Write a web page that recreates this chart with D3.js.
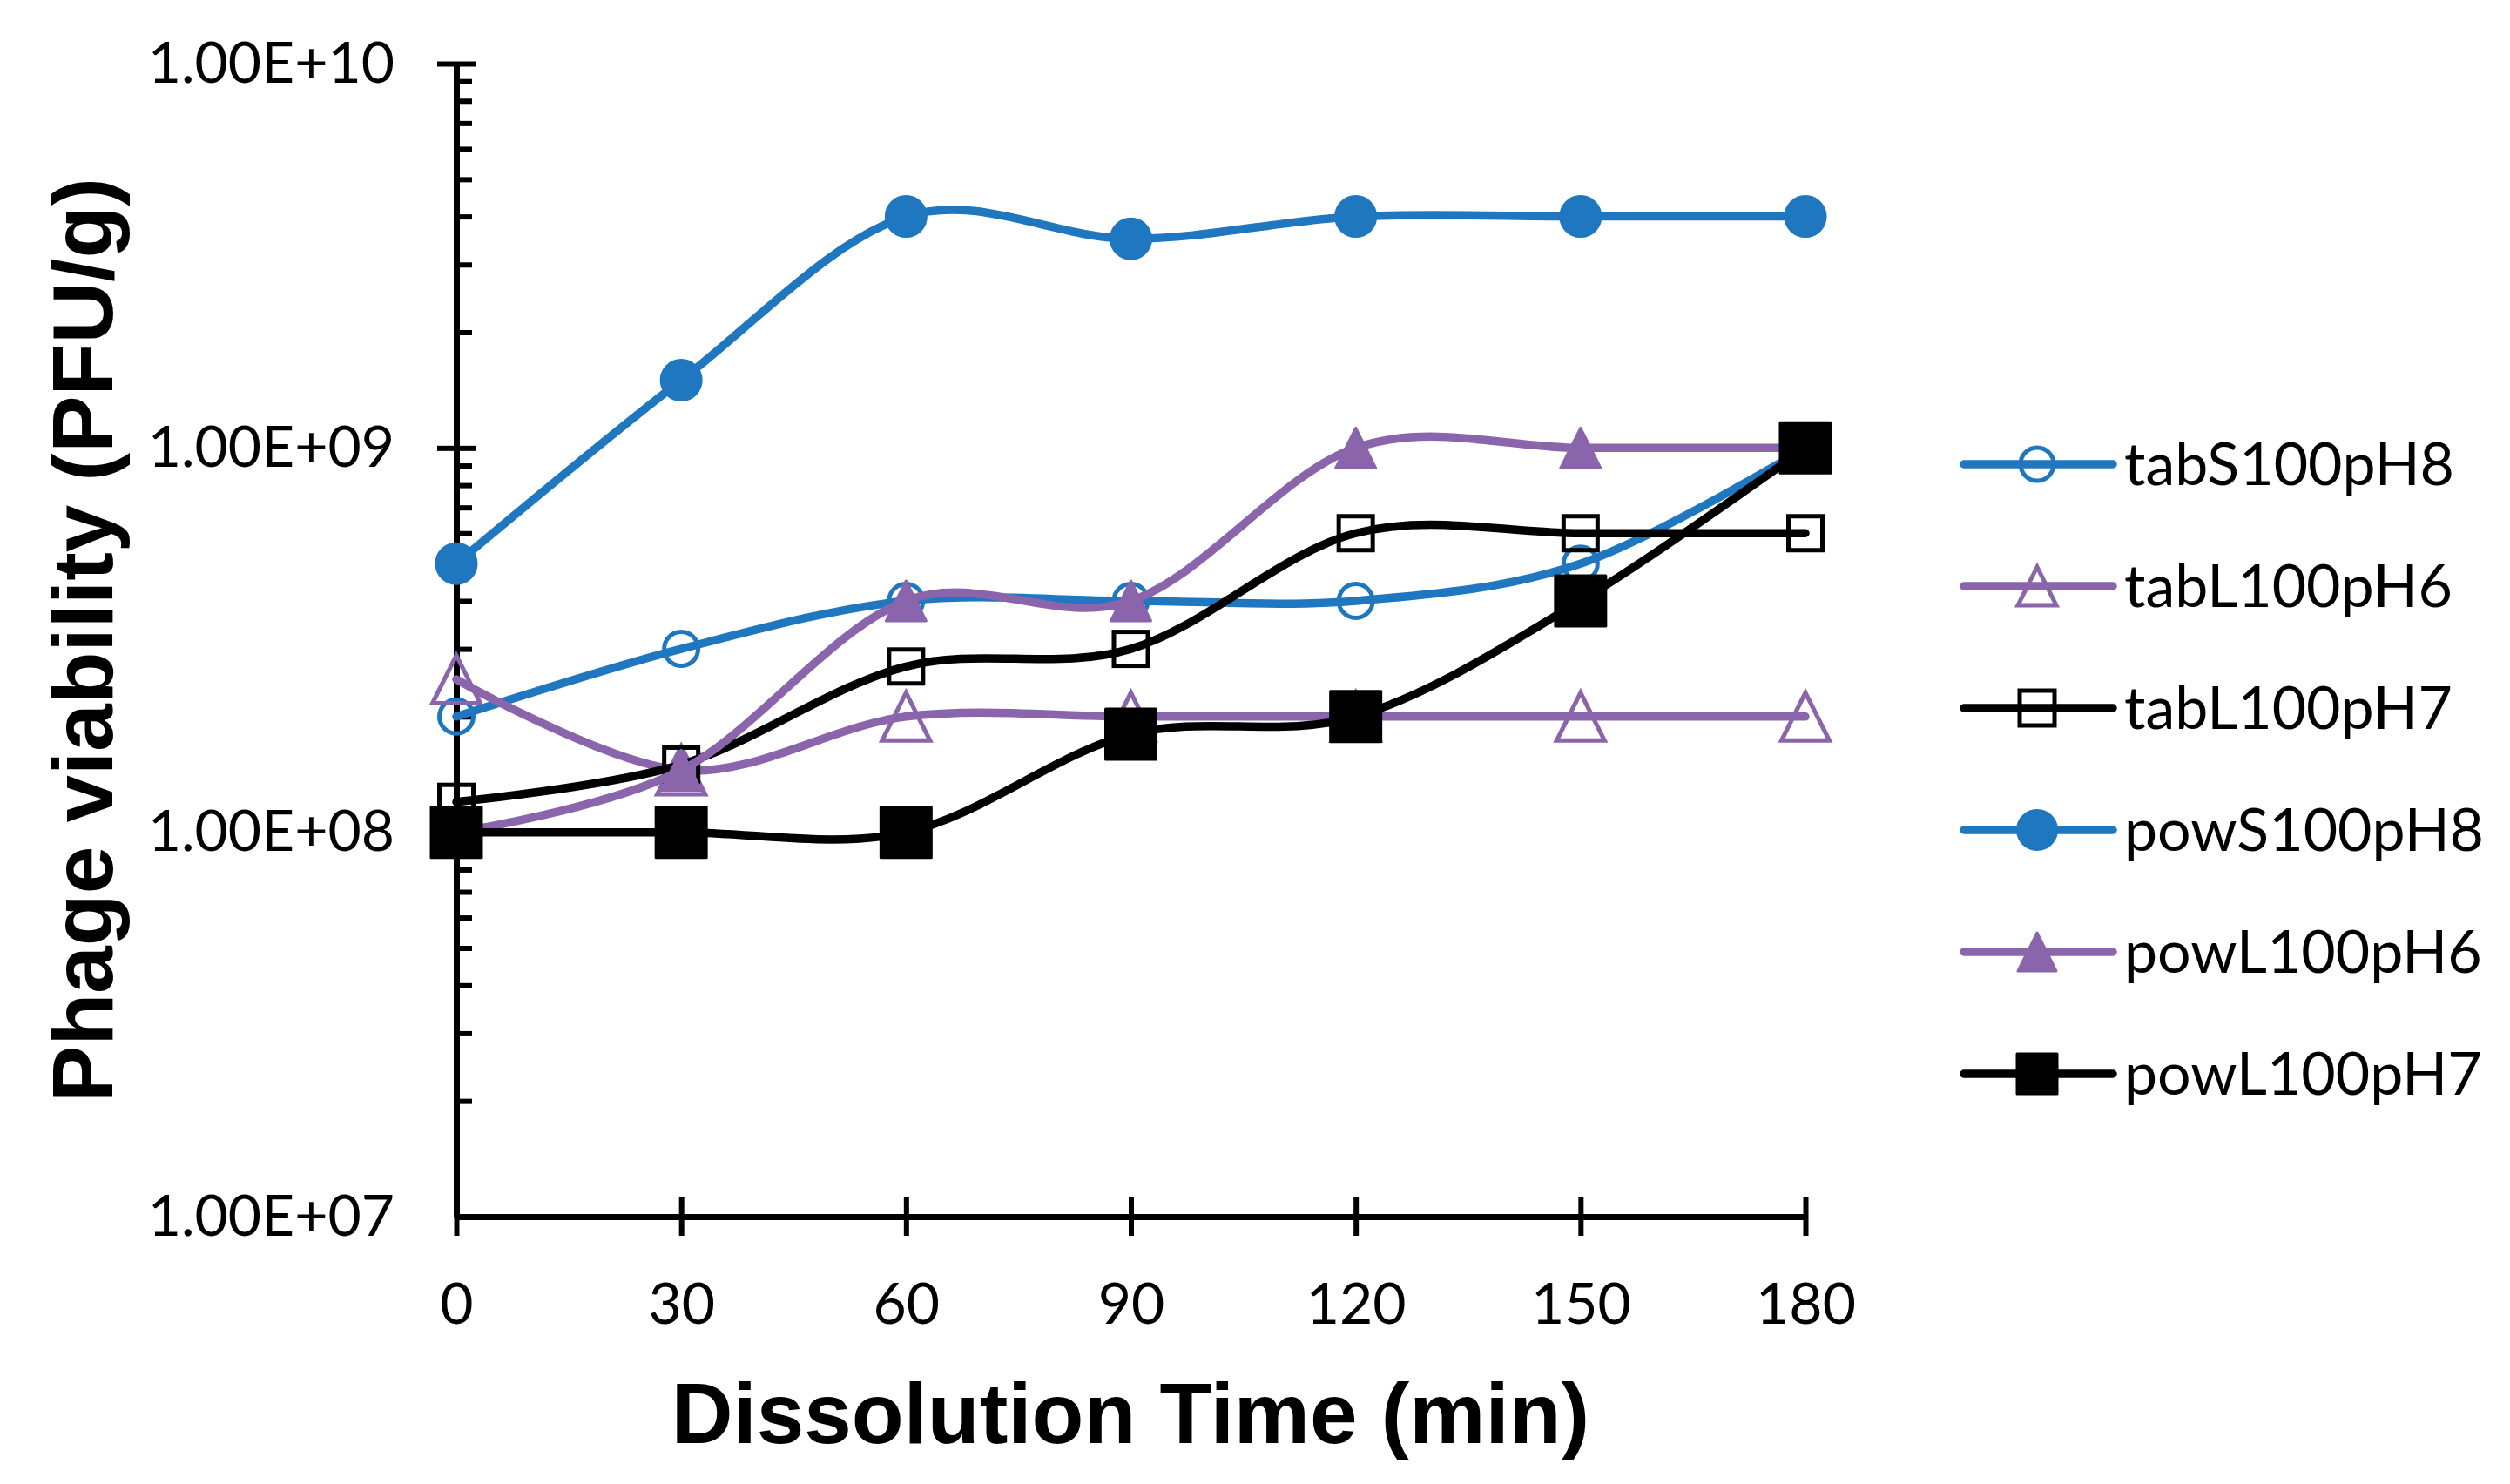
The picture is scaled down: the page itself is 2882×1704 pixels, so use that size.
<!DOCTYPE html>
<html>
<head>
<meta charset="utf-8">
<title>Phage viability</title>
<script src="https://cdn.jsdelivr.net/npm/d3@7"></script>
<style>
  body { margin: 0; background: #fff; }
  svg { display: block; }
</style>
</head>
<body>
<script>
// dissolution time points (min)
var times = [0, 30, 60, 90, 120, 150, 180];

// phage viability (PFU/g)
var tabS100pH8 = [2.0e8, 3.0e8, 4.0e8, 4.0e8, 4.0e8, 5.0e8, 1.0e9];
var tabL100pH6 = [2.5e8, 1.45e8, 2.0e8, 2.0e8, 2.0e8, 2.0e8, 2.0e8];
var tabL100pH7 = [1.2e8, 1.5e8, 2.7e8, 3.0e8, 6.0e8, 6.0e8, 6.0e8];
var powS100pH8 = [5.0e8, 1.5e9, 4.0e9, 3.5e9, 4.0e9, 4.0e9, 4.0e9];
var powL100pH6 = [1.0e8, 1.45e8, 4.0e8, 4.0e8, 1.0e9, 1.0e9, 1.0e9];
var powL100pH7 = [1.0e8, 1.0e8, 1.0e8, 1.8e8, 2.0e8, 4.0e8, 1.0e9];

var seriesNames = ["tabS100pH8", "tabL100pH6", "tabL100pH7", "powS100pH8", "powL100pH6", "powL100pH7"];
var seriesValues = [tabS100pH8, tabL100pH6, tabL100pH7, powS100pH8, powL100pH6, powL100pH7];

var xTicks = [0, 30, 60, 90, 120, 150, 180];
var yTicks = [1e7, 1e8, 1e9, 1e10];
var yTickLabels = ["1.00E+07", "1.00E+08", "1.00E+09", "1.00E+10"];

var blue = "#1f77c0", purple = "#8a65ab", black = "#000";

// marker look for each series (same order as seriesNames)
var styles = [
  { color: blue,   marker: "circle",   filled: false, size: 39, legendSize: 38 },
  { color: purple, marker: "triangle", filled: false, size: 55, legendSize: 44 },
  { color: black,  marker: "square",   filled: false, size: 39, legendSize: 40 },
  { color: blue,   marker: "circle",   filled: true,  size: 46, legendSize: 45 },
  { color: purple, marker: "triangle", filled: true,  size: 46, legendSize: 44 },
  { color: black,  marker: "square",   filled: true,  size: 58, legendSize: 46 }
];

var W = 2882, H = 1704;
var svg = d3.select("body").append("svg")
  .attr("width", W)
  .attr("height", H);

svg.append("rect").attr("width", W).attr("height", H).attr("fill", "#fff");

var x = d3.scaleLinear().domain([0, 180]).range([524, 2073]);
var y = d3.scaleLog().domain([1e7, 1e10]).range([1397, 73]);

var tickFont = "Lato, 'Open Sans', sans-serif";
var titleFont = "'Liberation Sans', Arial, sans-serif";

// minor ticks 2..9 of every decade, inside the plot
var minorTicks = [];
[1e7, 1e8, 1e9].forEach(function(d) {
  for (var k = 2; k <= 9; k++) minorTicks.push(d * k);
});

var yMinor = svg.append("g")
  .attr("transform", "translate(" + x(0) + ",0)")
  .call(d3.axisRight(y).tickValues(minorTicks).tickSize(18).tickFormat(""));
yMinor.select(".domain").remove();

var yIn = svg.append("g")
  .attr("transform", "translate(" + x(0) + ",0)")
  .call(d3.axisRight(y).tickValues(yTicks.slice(1)).tickSize(22).tickFormat(""));
yIn.select(".domain").remove();

var yAxis = svg.append("g")
  .attr("transform", "translate(" + x(0) + ",0)")
  .call(d3.axisLeft(y).tickValues(yTicks).tickSize(22).tickSizeOuter(0).tickPadding(49)
    .tickFormat(function(d, i) { return yTickLabels[i]; }));
yAxis.select(".tick:first-of-type line").remove();

var xUp = svg.append("g")
  .attr("transform", "translate(0," + y(1e7) + ")")
  .call(d3.axisTop(x).tickValues(xTicks).tickSize(22).tickFormat(""));
xUp.select(".domain").remove();

var xAxis = svg.append("g")
  .attr("transform", "translate(0," + y(1e7) + ")")
  .call(d3.axisBottom(x).tickValues(xTicks).tickSize(22).tickSizeOuter(0).tickPadding(54));

svg.selectAll(".domain").attr("stroke", "#000").attr("stroke-width", 7);
svg.selectAll(".tick line").attr("stroke", "#000").attr("stroke-width", 6);
[yAxis, xAxis].forEach(function(a) {
  a.attr("font-family", tickFont).attr("font-size", 66);
  a.selectAll("text").attr("fill", "#000");
});

// series lines and markers, drawn one series at a time like the original
var line = d3.line()
  .x(function(d) { return x(d[0]); })
  .y(function(d) { return y(d[1]); })
  .curve(d3.curveCardinal.tension(0));

function drawMarker(g, st, s) {
  var m;
  if (st.marker === "circle") {
    m = g.append("circle").attr("r", s / 2);
  } else if (st.marker === "square") {
    m = g.append("rect").attr("x", -s / 2).attr("y", -s / 2).attr("width", s).attr("height", s);
  } else {
    m = g.append("path").attr("d", "M0," + (-s / 2) + "L" + (s / 2) + "," + (s / 2) + "L" + (-s / 2) + "," + (s / 2) + "Z");
  }
  m.attr("fill", st.filled ? st.color : "none")
    .attr("stroke", st.color)
    .attr("stroke-width", st.filled ? 3 : 5)
    .attr("stroke-linejoin", st.filled ? "round" : "miter");
}

seriesValues.forEach(function(vals, i) {
  var st = styles[i];
  var pts = times.map(function(t, j) { return [t, vals[j]]; });
  var g = svg.append("g").attr("class", "series");
  g.append("path")
    .attr("d", line(pts))
    .attr("fill", "none")
    .attr("stroke", st.color)
    .attr("stroke-width", 9.5)
    .attr("stroke-linecap", "round");
  pts.forEach(function(p) {
    var mg = g.append("g").attr("transform", "translate(" + x(p[0]) + "," + y(p[1]) + ")");
    drawMarker(mg, st, st.size);
  });
});

// axis titles
svg.append("text")
  .attr("x", 1298).attr("y", 1657)
  .attr("text-anchor", "middle")
  .attr("font-family", titleFont).attr("font-weight", "bold").attr("font-size", 98)
  .text("Dissolution Time (min)");

svg.append("text")
  .attr("transform", "translate(129,735) rotate(-90)")
  .attr("text-anchor", "middle")
  .attr("font-family", titleFont).attr("font-weight", "bold").attr("font-size", 98)
  .text("Phage viability (PFU/g)");

// legend
var legend = svg.append("g").attr("transform", "translate(2255,533)");
seriesNames.forEach(function(name, i) {
  var st = styles[i];
  var row = legend.append("g").attr("transform", "translate(0," + (i * 140) + ")");
  row.append("line")
    .attr("x1", 0).attr("x2", 171)
    .attr("stroke", st.color).attr("stroke-width", 9.5).attr("stroke-linecap", "round");
  drawMarker(row.append("g").attr("transform", "translate(84,0)"), st, st.legendSize);
  row.append("text")
    .attr("x", 184).attr("y", 0).attr("dy", "0.36em")
    .attr("font-family", tickFont).attr("font-size", 68)
    .text(name);
});
</script>
</body>
</html>
